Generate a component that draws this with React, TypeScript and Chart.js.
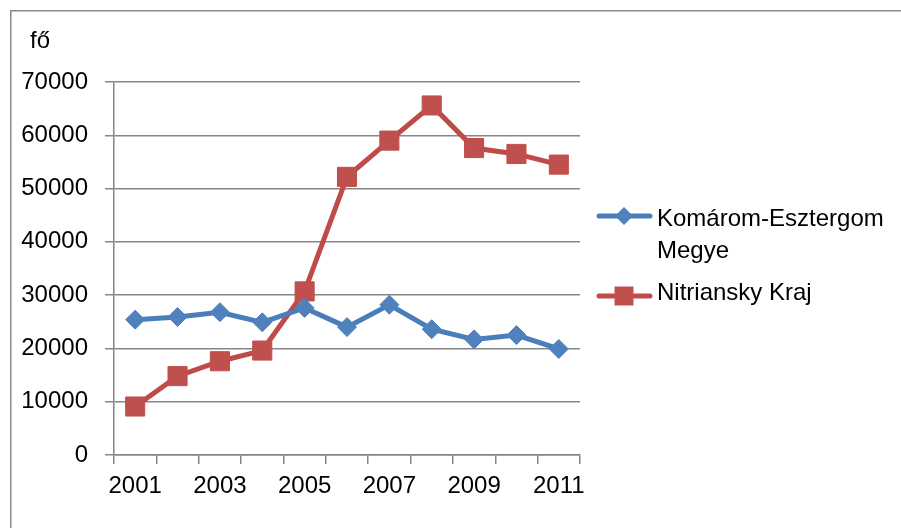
import React, { useEffect, useRef } from "react";
import { Chart, registerables } from "chart.js";

Chart.register(...registerables);

const categories = ["2001", "2002", "2003", "2004", "2005", "2006", "2007", "2008", "2009", "2010", "2011"];
const tickLabels = ["2001", "", "2003", "", "2005", "", "2007", "", "2009", "", "2011"];
const komaromLabel = ["Komárom-Esztergom", "Megye"];
const nitraLabel = ["Nitriansky Kraj"];
const komarom = [25400, 25900, 26800, 24900, 27600, 24000, 28200, 23600, 21700, 22500, 19900];
const nitra = [9100, 14800, 17600, 19600, 30700, 52200, 59000, 65600, 57600, 56500, 54500];
const unitLabel = "fő";
const yMin = 0;
const yMax = 70000;
const yStep = 10000;

const FONT = "'Liberation Sans', Arial, sans-serif";
const BLUE_LINE = "#4A7EBB";
const BLUE_MARK = "#4F81BD";
const RED_LINE = "#BE4B48";
const RED_MARK = "#C0504D";
const GRID = "#868686";

const decorPlugin = {
  id: "decor",
  afterDraw(chart: any) {
    const ctx = chart.ctx;
    ctx.save();
    // outer border (top and left)
    ctx.strokeStyle = "#8a8a8a";
    ctx.lineWidth = 1.5;
    ctx.beginPath();
    ctx.moveTo(10.75, 528);
    ctx.lineTo(10.75, 10.75);
    ctx.lineTo(901, 10.75);
    ctx.stroke();

    // unit label
    ctx.fillStyle = "#000";
    ctx.font = `24px ${FONT}`;
    ctx.textBaseline = "alphabetic";
    ctx.textAlign = "left";
    ctx.fillText(unitLabel, 30, 48);

    // legend
    const items = [
      { lines: komaromLabel, y: 216, line: BLUE_LINE, mark: BLUE_MARK, style: "diamond", base: 226 },
      { lines: nitraLabel, y: 296, line: RED_LINE, mark: RED_MARK, style: "square", base: 300 },
    ];
    items.forEach((it) => {
      ctx.strokeStyle = it.line;
      ctx.lineWidth = 5;
      ctx.lineCap = "round";
      ctx.beginPath();
      ctx.moveTo(599, it.y);
      ctx.lineTo(650, it.y);
      ctx.stroke();
      ctx.fillStyle = it.mark;
      ctx.beginPath();
      if (it.style === "diamond") {
        ctx.moveTo(624 - 9, it.y);
        ctx.lineTo(624, it.y - 9);
        ctx.lineTo(624 + 9, it.y);
        ctx.lineTo(624, it.y + 9);
        ctx.closePath();
      } else {
        ctx.rect(624 - 9.5, it.y - 9.5, 19, 19);
      }
      ctx.fill();
      ctx.fillStyle = "#000";
      it.lines.forEach((t, i) => ctx.fillText(t, 657, it.base + i * 32));
    });
    ctx.restore();
  },
};

export default function App() {
  const ref = useRef<HTMLCanvasElement | null>(null);

  useEffect(() => {
    if (!ref.current) return;
    const chart = new Chart(ref.current, {
      type: "line",
      data: {
        labels: categories,
        datasets: [
          {
            label: komaromLabel.join(" "),
            data: komarom,
            borderColor: BLUE_LINE,
            backgroundColor: BLUE_MARK,
            borderWidth: 5,
            pointStyle: "rectRot",
            pointRadius: 9.5,
            pointBorderWidth: 1,
            pointBorderColor: BLUE_MARK,
            pointBackgroundColor: BLUE_MARK,
            tension: 0,
            fill: false,
          },
          {
            label: nitraLabel.join(" "),
            data: nitra,
            borderColor: RED_LINE,
            backgroundColor: RED_MARK,
            borderWidth: 5,
            pointStyle: "rect",
            pointRadius: 13.5,
            pointBorderWidth: 1,
            pointBorderColor: RED_MARK,
            pointBackgroundColor: RED_MARK,
            tension: 0,
            fill: false,
          },
        ],
      },
      options: {
        responsive: false,
        animation: false,
        layout: { padding: { top: 82, right: 321, bottom: 0, left: 0 } },
        plugins: {
          legend: { display: false },
          tooltip: { enabled: false },
          title: { display: false },
        },
        scales: {
          x: {
            type: "category",
            offset: true,
            grid: {
              offset: true,
              drawOnChartArea: false,
              drawTicks: true,
              tickLength: 9,
              color: GRID,
              lineWidth: 1.5,
            },
            border: { display: true, color: GRID, width: 1.5 },
            ticks: {
              autoSkip: false,
              maxRotation: 0,
              padding: 8,
              color: "#000",
              font: { family: FONT, size: 24 },
              callback: (_v: any, i: number) => tickLabels[i],
            },
            afterFit: (s: any) => {
              s.height = 73;
            },
          },
          y: {
            min: yMin,
            max: yMax,
            ticks: {
              stepSize: yStep,
              padding: 17,
              color: "#000",
              font: { family: FONT, size: 24 },
              callback: (v: any) => String(v),
            },
            grid: {
              color: GRID,
              lineWidth: 1.5,
              drawTicks: true,
              tickLength: 9,
            },
            border: { display: true, color: GRID, width: 1.5 },
            afterFit: (s: any) => {
              s.width = 114;
            },
          },
        },
      },
      plugins: [decorPlugin],
    });
    return () => chart.destroy();
  }, []);

  return (
    <div style={{ position: "fixed", left: 0, top: 0, width: 901, height: 528, background: "#fff" }}>
      <canvas ref={ref} width={901} height={528} style={{ display: "block" }} />
    </div>
  );
}
